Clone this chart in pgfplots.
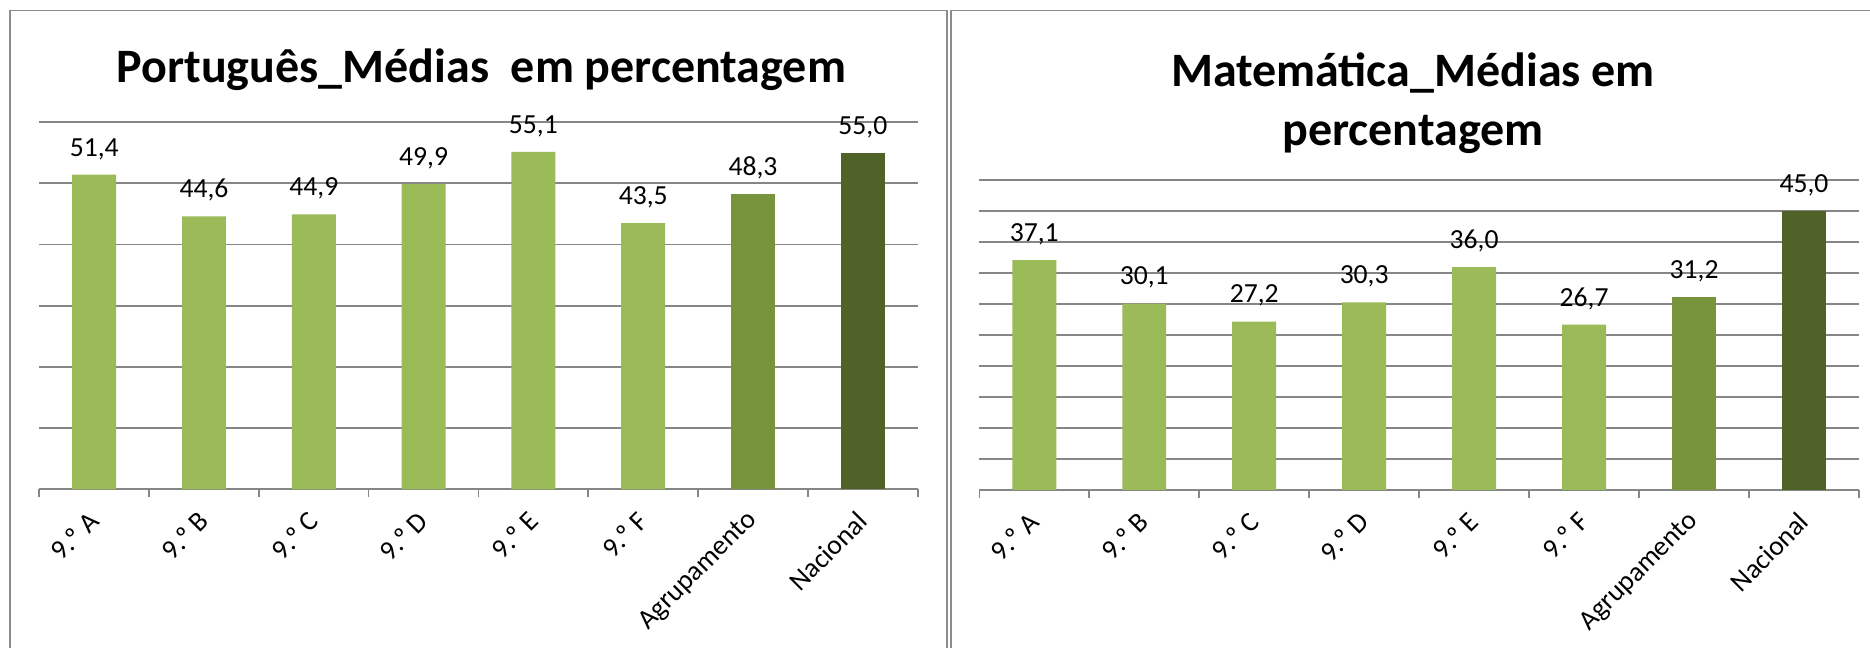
\documentclass[border=0pt]{standalone}
\usepackage{fontspec}
\setmainfont{Carlito}
\usepackage{pgfplots}
\pgfplotsset{compat=1.18}
\definecolor{barA}{HTML}{9BBB59}
\definecolor{barB}{HTML}{77933C}
\definecolor{barC}{HTML}{4F6228}
\definecolor{gridc}{HTML}{868686}
\definecolor{framec}{HTML}{8C8C8C}
\pgfplotsset{mychart/.style={
  scale only axis, anchor=south west, clip=false,
  xmin=-0.5, xmax=7.5, ymin=0,
  xtick={0,...,7},
  xticklabels={9.º A,9.º B,9.º C,9.º D,9.º E,9.º F,Agrupamento,Nacional},
  minor xtick={-0.5,0.5,...,7.5},
  xtick pos=bottom,
  ytick pos=left,
  tick align=outside,
  major tick length=0pt,
  minor tick length=4pt,
  minor x tick style={draw=gridc, line width=0.8pt},
  major tick style={draw=none},
  yticklabels={},
  ymajorgrids,
  grid style={draw=gridc, line width=0.9pt},
  axis line style={draw=none},
  ybar, bar width=0.4,
  xticklabel style={font=\fontsize{13.8}{16}\selectfont, yshift=-13.5pt, rotate=45, anchor=east, inner sep=0pt},
  nodes near coords,
  every node near coord/.append style={font=\fontsize{13.8}{16}\selectfont, text=black, anchor=base, inner sep=0pt, yshift=9.3pt},
  /pgf/number format/use comma,
  /pgf/number format/fixed,
  /pgf/number format/fixed zerofill,
  /pgf/number format/precision=1,
  /pgf/number format/assume math mode=true,
}}
\begin{document}
\begin{tikzpicture}
\useasboundingbox (0,0) rectangle (935pt,324pt);
\fill[white] (0,0) rectangle (935pt,324pt);
\draw[framec, line width=0.75pt] (5pt,-5pt) -- (5pt,318.65pt) -- (473.6pt,318.65pt) -- (473.6pt,-5pt);
\draw[framec, line width=0.75pt] (475.4pt,-5pt) -- (475.4pt,318.65pt) -- (940pt,318.65pt);
\node[anchor=base, font=\bfseries\fontsize{24}{29}\selectfont] at (240.75pt,282.7pt) {Português\_Médias\ \ em percentagem};
\node[anchor=base, font=\bfseries\fontsize{24}{29}\selectfont] at (706.5pt,280.5pt) {Matemática\_Médias em};
\node[anchor=base, font=\bfseries\fontsize{24}{29}\selectfont] at (706.5pt,251.25pt) {percentagem};

\begin{axis}[mychart, at={(19.65pt,79.35pt)}, width=439.2pt, height=183.65pt,
  ymax=60, ytick={0,10,...,60}]
\addplot[fill=barA, draw=none, bar shift=0pt] coordinates {(0,51.4) (1,44.6) (2,44.9) (3,49.9) (4,55.1) (5,43.5)};
\addplot[fill=barB, draw=none, bar shift=0pt] coordinates {(6,48.3)};
\addplot[fill=barC, draw=none, bar shift=0pt] coordinates {(7,55.0)};
\end{axis}

\begin{axis}[mychart, at={(489.65pt,79pt)}, width=439.85pt, height=154.85pt,
  ymax=50, ytick={0,5,...,50}]
\addplot[fill=barA, draw=none, bar shift=0pt] coordinates {(0,37.1) (1,30.1) (2,27.2) (3,30.3) (4,36.0) (5,26.7)};
\addplot[fill=barB, draw=none, bar shift=0pt] coordinates {(6,31.2)};
\addplot[fill=barC, draw=none, bar shift=0pt] coordinates {(7,45.0)};
\end{axis}
\end{tikzpicture}
\end{document}
